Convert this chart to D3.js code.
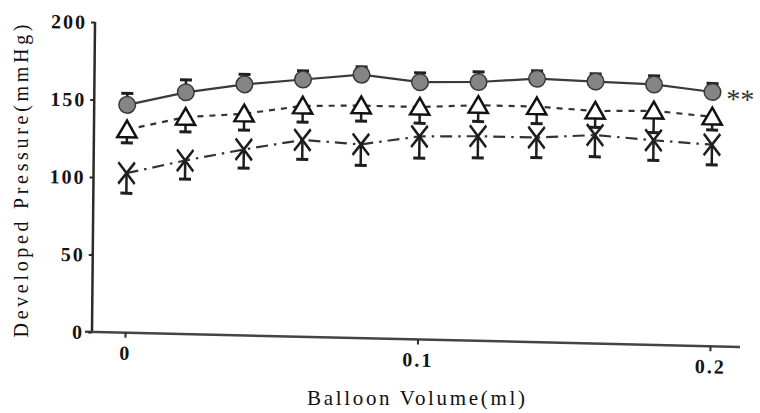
<!DOCTYPE html>
<html>
<head>
<meta charset="utf-8">
<script src="https://cdn.jsdelivr.net/npm/d3@7"></script>
<style>
  html, body { margin: 0; padding: 0; background: #fff; }
  svg { display: block; }
</style>
</head>
<body>
<svg id="chart" width="760" height="413"></svg>
<script>
// ---- data ----
const volumes = [0, 0.02, 0.04, 0.06, 0.08, 0.1, 0.12, 0.14, 0.16, 0.18, 0.2];
const circleMean = [147, 156, 162, 166, 170, 166, 167, 170, 169, 168, 164];
const circleSD   = [7.5, 8, 6.5, 5.5, 5, 6, 6.5, 5, 5, 5.5, 5.5];
const triMean    = [131, 140, 143, 149, 150, 150, 152, 152, 150, 151, 148];
const triSD      = [8.5, 9.5, 10.5, 10.5, 10, 10.5, 10.5, 11, 10.5, 14, 8.5];
const crossMean  = [103, 112, 120, 127, 125, 131, 132, 132, 134.5, 132, 130];
const crossSD    = [13, 12, 12, 12.5, 13.5, 14, 14, 13, 14, 13, 13];
const yTicks = [0, 50, 100, 150, 200];
const xTicks = [0, 0.1, 0.2];
const xTickLabels = ["0", "0.1", "0.2"];
const yTitle = "Developed Pressure(mmHg)";
const xTitle = "Balloon Volume(ml)";
const significance = "**";

// ---- layout ----
const svg = d3.select("#chart");
const ink = "#2b2b2b";
const x = d3.scaleLinear().domain([0, 0.2]).range([33, 618]);
const y = d3.scaleLinear().domain([0, 200]).range([0, -310]);

// plot group, with the slight skew of the scanned original
const g = svg.append("g").attr("transform", "matrix(1,0.023,-0.0097,1,92,332)");

// axes
g.append("line").attr("x1", 0).attr("x2", 0).attr("y1", y(0)).attr("y2", y(200))
  .attr("stroke", ink).attr("stroke-width", 2.5);
g.append("line").attr("x1", -7).attr("x2", 648).attr("y1", 0).attr("y2", 0)
  .attr("stroke", "#444").attr("stroke-width", 2.5);

const tickFont = "'Liberation Serif', 'Times New Roman', serif";
const yAxis = d3.axisLeft(y).tickValues(yTicks).tickSize(4).tickPadding(4).tickFormat(d3.format("d"));
const ya = g.append("g").call(yAxis);
ya.select(".domain").remove();
ya.selectAll(".tick line").attr("stroke", ink).attr("stroke-width", 2);
ya.selectAll(".tick text")
  .attr("font-family", tickFont).attr("font-weight", "bold")
  .attr("font-size", 20).attr("letter-spacing", 2).attr("fill", "#141414").attr("dy", "0.34em");

const xAxis = d3.axisBottom(d3.scaleLinear().domain([0, 0.2]).range([33, 618]))
  .tickValues(xTicks).tickSize(5).tickPadding(8).tickFormat((d, i) => xTickLabels[i]);
const xa = g.append("g").call(xAxis);
xa.select(".domain").remove();
xa.selectAll(".tick line").attr("stroke", ink).attr("stroke-width", 2);
xa.selectAll(".tick text")
  .attr("font-family", tickFont).attr("font-weight", "bold")
  .attr("font-size", 20).attr("letter-spacing", 2).attr("fill", "#141414");

// series lines
const line = (means) => d3.line().x((d, i) => x(volumes[i])).y(d => y(d))(means);
g.append("path").attr("d", line(circleMean)).attr("fill", "none")
  .attr("stroke", "#3a3a3a").attr("stroke-width", 2.2);
g.append("path").attr("d", line(triMean)).attr("fill", "none")
  .attr("stroke", "#333").attr("stroke-width", 2.2).attr("stroke-dasharray", "6,6");
g.append("path").attr("d", line(crossMean)).attr("fill", "none")
  .attr("stroke", "#333").attr("stroke-width", 2.2).attr("stroke-dasharray", "12,6,2.5,6");

// error bars
function errBars(means, sds, dir) {
  const eg = g.append("g").attr("stroke", "#1e1e1e").attr("stroke-width", 2.5);
  means.forEach((m, i) => {
    const cx = x(volumes[i]);
    const end = y(m + dir * sds[i]);
    eg.append("line").attr("x1", cx).attr("x2", cx).attr("y1", y(m)).attr("y2", end);
    eg.append("line").attr("x1", cx - 6).attr("x2", cx + 6).attr("y1", end).attr("y2", end)
      .attr("stroke-width", 3);
  });
}
errBars(circleMean, circleSD, +1);
errBars(triMean, triSD, -1);
errBars(crossMean, crossSD, -1);

// markers
g.append("g").selectAll("circle").data(circleMean).join("circle")
  .attr("cx", (d, i) => x(volumes[i])).attr("cy", d => y(d)).attr("r", 8.3)
  .attr("fill", "#858585").attr("stroke", "#3a3a3a").attr("stroke-width", 1.5);

const tri = d3.symbol().type(d3.symbolTriangle).size(160);
g.append("g").selectAll("path").data(triMean).join("path")
  .attr("d", tri)
  .attr("transform", (d, i) => `translate(${x(volumes[i])},${y(d) + 2})`)
  .attr("fill", "#fff").attr("stroke", "#111").attr("stroke-width", 2.5)
  .attr("stroke-linejoin", "miter");

const cross = d3.symbol().type(d3.symbolTimes).size(180);
g.append("g").selectAll("path").data(crossMean).join("path")
  .attr("d", cross)
  .attr("transform", (d, i) => `translate(${x(volumes[i])},${y(d)}) scale(1,1.3)`)
  .attr("fill", "none").attr("stroke", "#1e1e1e").attr("stroke-width", 2.3);

// significance mark
g.append("text")
  .attr("x", x(0.2) + 14).attr("y", y(circleMean[circleMean.length - 1]) + 16)
  .attr("font-family", "'Liberation Serif', serif").attr("font-size", 28)
  .attr("fill", "#333").text(significance);

// axis titles
svg.append("text")
  .attr("transform", "translate(28,181) rotate(-90)")
  .attr("text-anchor", "middle")
  .attr("font-family", "'Liberation Serif', serif").attr("font-size", 20)
  .attr("fill", "#111")
  .attr("textLength", 313).attr("lengthAdjust", "spacing")
  .text(yTitle);
svg.append("text")
  .attr("x", 416).attr("y", 405)
  .attr("text-anchor", "middle")
  .attr("font-family", "'Liberation Serif', serif").attr("font-size", 21)
  .attr("fill", "#111")
  .attr("textLength", 218).attr("lengthAdjust", "spacing")
  .text(xTitle);
</script>
</body>
</html>
